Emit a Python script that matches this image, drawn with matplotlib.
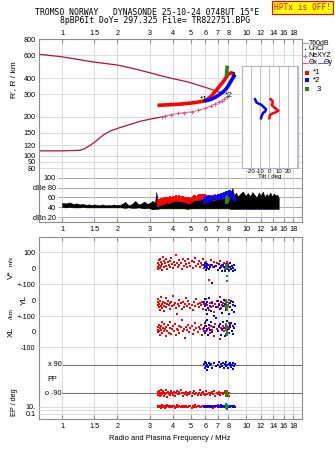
import matplotlib
matplotlib.use("Agg")
import matplotlib.pyplot as plt
from matplotlib.lines import Line2D
from matplotlib.ticker import NullLocator

# ---------------------------------------------------------------- data
FREQ_TICKS = [1, 1.5, 2, 3, 4, 5, 6, 7, 8, 10, 12, 14, 16, 18]
FREQ_LABELS = ['1', '1.5', '2', '3', '4', '5', '6', '7', '8', '10', '12', '14', '16', '18']
HT_TICKS = [800, 600, 400, 300, 200, 150, 120, 100, 90, 80]
AMP_TICKS = [100, 80, 60, 40, 20]
AMP_LABELS = ['100', 'dBe 80', '60', '40', 'dBn 20']

# upper curve and true-height profile (MHz, km)
upper_f = [0.753, 1.0, 1.5, 2.0, 2.5, 3.0, 3.5, 4.0, 4.5, 5.0, 5.5, 6.0, 6.5, 7.0, 7.5]
upper_h = [612, 585, 532, 505, 470, 440, 415, 396, 382, 368, 352, 339, 326, 314, 305]
prof_f = [0.753, 1.0, 1.25, 1.32, 1.42, 1.51, 1.6, 1.68, 1.82, 1.98, 2.2, 2.44, 2.7, 3.0, 3.3, 3.62]
prof_h = [109, 109, 110, 113, 120, 128, 137, 145, 155, 162, 170, 178, 186, 192, 197, 201]
nexyz_f = [3.47, 3.62, 3.9, 4.26, 4.6, 5.06, 5.5, 5.97, 6.4, 6.76, 7.1, 7.36, 7.6, 7.83]
nexyz_h = [198, 203, 208, 213, 216, 219, 225, 233, 242, 252, 260, 267, 277, 287]

# virtual-height traces
o_trace_f = [3.30, 3.5, 3.7, 3.9, 4.1, 4.3, 4.5, 4.7, 4.9, 5.1, 5.3, 5.5, 5.7, 5.9,
             6.0, 6.2, 6.4, 6.6, 6.8, 7.0, 7.2, 7.4, 7.6, 7.8, 8.0, 8.3, 8.6]
o_trace_h = [246, 247, 248, 249, 250, 251, 252, 254, 255, 257, 259, 261, 263, 266,
             268, 276, 286, 300, 316, 332, 350, 366, 385, 408, 430, 440, 428]
x_trace_f = [5.9, 6.1, 6.3, 6.5, 6.7, 6.9, 7.1, 7.3, 7.5, 7.7, 7.9, 8.1, 8.3, 8.5, 8.7]
x_trace_h = [266, 268, 271, 275, 281, 288, 296, 304, 313, 325, 340, 360, 383, 405, 425]
z_trace_f = [7.80, 7.82, 7.84, 7.86, 7.88, 7.90]
z_trace_h = [412, 430, 450, 470, 488, 500]

# tilt profiles (deg, km)
tilt_red = [1.3, 3.1, 3.5, 2.4, 4.2, 7.9, 9.7, 6.0, 3.5, 0.5, -0.2]
tilt_red_h = [274, 267, 255, 247, 240, 229, 223, 216, 213, 207, 195]
tilt_blue = [-15.9, -14.1, -11.2, -8.6, -6.8, -3.8, -4.9, -6.8, -7.5, -8.6, -9.3]
tilt_blue_h = [274, 258, 252, 247, 240, 229, 219, 216, 211, 203, 195]

# background amplitude (MHz, dB)
noise_f = [1.00, 1.05, 1.10, 1.15, 1.20, 1.25, 1.30, 1.35, 1.40, 1.45,
           1.50, 1.55, 1.60, 1.65, 1.70, 1.75, 1.80, 1.85, 1.90, 1.95,
           2.00, 2.10, 2.20, 2.30, 2.40, 2.50, 2.60, 2.70, 2.80, 2.90,
           3.00, 3.10, 3.20, 3.25, 3.30, 3.40, 3.50, 3.60, 3.70, 3.80,
           3.90, 4.00, 4.20, 4.40, 4.60, 4.80, 5.00, 5.20, 5.40, 5.60,
           5.80, 6.00, 6.20, 6.40, 6.60, 6.80, 7.00, 7.20, 7.40, 7.60,
           7.80, 8.00, 8.20, 8.40, 8.60, 8.80, 9.00, 9.30, 9.60, 9.90,
           10.2, 10.5, 10.8, 11.1, 11.4, 11.7, 12.0, 12.3, 12.6, 12.9,
           13.2, 13.5, 13.8, 14.1, 14.4, 14.7, 15.0]
noise_hi = [49, 48, 50, 47, 48, 46, 47, 45, 46, 45,
            46, 45, 44, 46, 45, 44, 45, 44, 46, 45,
            45, 46, 51, 44, 47, 53, 46, 48, 52, 47,
            49, 53, 50, 71, 52, 50, 54, 49, 55, 51,
            50, 53, 56, 52, 61, 55, 60, 57, 54, 58,
            56, 62, 55, 60, 57, 58, 56, 60, 58, 63,
            60, 58, 62, 79, 64, 70, 62, 68, 72, 63,
            69, 62, 71, 65, 60, 70, 64, 72, 61, 67,
            63, 70, 62, 68, 64, 66, 60]
noise_lo = [41, 40, 41, 40, 40, 40, 41, 40, 40, 40,
            40, 40, 40, 40, 40, 40, 40, 40, 40, 40,
            40, 40, 39, 40, 39, 39, 40, 39, 38, 39,
            38, 36, 37, 37, 37, 38, 38, 38, 38, 38,
            38, 38, 38, 38, 38, 37, 38, 38, 38, 38,
            38, 38, 38, 38, 38, 38, 38, 38, 38, 38,
            38, 38, 37, 37, 37, 37, 37, 37, 37, 37,
            37, 37, 37, 37, 37, 37, 37, 37, 37, 37,
            37, 37, 37, 37, 37, 37, 37]

# echoes, ordinary (*1)
red_f = [3.30, 3.31, 3.33, 3.35, 3.37, 3.39, 3.41, 3.43, 3.46, 3.48,
         3.51, 3.54, 3.57, 3.60, 3.63, 3.66, 3.69, 3.72, 3.76, 3.80,
         3.84, 3.88, 3.92, 3.96, 4.00, 4.04, 4.09, 4.14, 4.19, 4.24,
         4.29, 4.34, 4.40, 4.46, 4.52, 4.58, 4.64, 4.70, 4.77, 4.84,
         4.91, 4.98, 5.05, 5.12, 5.20, 5.28, 5.36, 5.44, 5.52, 5.60,
         5.68, 5.76, 5.84, 5.92, 6.00, 6.08, 6.16, 6.24, 6.33, 6.42,
         6.51, 6.60, 6.70, 6.80, 6.90, 7.00, 7.10, 7.20, 7.30, 7.40,
         7.50, 7.58, 7.66, 7.72, 7.78, 7.84, 7.90, 7.96, 8.02, 8.10]
red_v = [10, 35, -5, 50, 20, 0, 60, 15, 40, -8,
         25, 70, 5, 45, 30, 12, 55, -2, 38, 20,
         48, 10, 65, 28, 3, 42, 18, 80, 33, 8,
         52, 22, 36, -4, 60, 14, 44, 27, 6, 58,
         30, 17, 48, 2, 38, 64, 12, 25, 45, 8,
         35, 20, 55, 0, 28, 42, 10, -75, 18, 50,
         22, 5, 40, 15, 30, -10, 25, 45, 8, 20,
         12, 35, -5, 28, 18, 40, 6, 25, -15, 10]
red_yl = [-15, -30, 5, -42, -22, -60, -8, -35, 20, -50,
          -25, -12, -38, -70, -18, 10, -45, -28, -5, -33,
          -20, -55, -10, -40, 25, -30, -16, -48, -85, -24,
          -36, 0, -20, -58, -12, -44, -27, 15, -35, -8,
          -22, -50, -30, -65, -14, -38, 5, -26, -46, -18,
          -32, -10, -56, -24, -40, 8, -30, -62, -20, -45,
          -15, -35, -75, -28, -8, -42, -22, 20, -52, -30,
          -18, -38, -5, -48, -26, -60, -12, -34, 2, -20]
red_xl = [10, -5, 25, 40, 0, 18, -20, 32, 8, 55,
          -12, 22, 5, 45, 15, -30, 28, 2, 38, -8,
          20, 60, -15, 12, 35, 0, 48, -25, 16, 6,
          30, -10, 24, 70, 4, 14, -40, 26, 10, 42,
          -2, 18, 34, -18, 8, 52, 20, -6, 28, 12,
          40, -22, 15, 2, 30, 62, 6, 20, -12, 36,
          10, 24, -30, 44, 14, 0, 28, -50, 18, 8,
          32, 4, 22, -16, 38, 12, -4, 26, 50, 16]
red_pp = [-90, -82, -100, -75, -95, -110, -86, -70, -98, -88,
          -92, -78, -105, -85, -96, -68, -90, -112, -80, -94,
          -87, -102, -74, -91, -99, -83, -108, -89, -77, -95,
          -84, -97, -72, -90, -106, -86, -93, -79, -101, -88,
          -96, -81, -110, -89, -76, -94, -85, -103, -91, -70,
          -98, -87, -82, -95, -100, -78, -92, -86, -104, -90,
          -83, -97, -75, -108, -88, -93, -80, -99, -85, -91,
          -94, -89, -77, -101, -86, -96, -82, -90, -105, -88]
red_ep = [10, 14, 7, 20, 9, 12, 16, 6, 11, 25,
          8, 13, 18, 10, 5, 15, 9, 22, 12, 7,
          14, 10, 19, 8, 12, 16, 6, 11, 28, 9,
          13, 17, 8, 12, 10, 21, 7, 15, 11, 9,
          18, 12, 6, 14, 10, 24, 8, 13, 16, 11,
          9, 15, 12, 7, 20, 10, 14, 8, 17, 11,
          12, 6, 16, 9, 13, 22, 10, 8, 15, 12,
          11, 18, 7, 14, 9, 12, 20, 10, 8, 13]
red_amp = [54, 56, 53, 55, 57, 54, 56, 58, 55, 57,
           56, 58, 60, 57, 59, 61, 58, 60, 62, 59,
           61, 63, 60, 62, 64, 62, 63, 65, 63, 64,
           65, 63, 64, 62, 63, 61, 62, 60, 61, 59,
           60, 58, 61, 63, 65, 66, 64, 66, 67, 65,
           67, 68, 66, 68, 67, 65, 66, 64, 65, 66,
           64, 66, 65, 67, 66, 68, 67, 66, 68, 67,
           69, 68, 70, 71, 72, 70, 69, 68, 66, 64]

# echoes, extraordinary (*2)
blue_f = [5.92, 5.96, 6.00, 6.03, 6.06, 6.10, 6.14, 6.18, 6.24, 6.32,
          6.42, 6.55, 6.70, 6.85, 7.00, 7.10, 7.20, 7.30, 7.40, 7.48,
          7.56, 7.64, 7.72, 7.80, 7.88, 7.96, 8.04, 8.12, 8.20, 8.28,
          8.36, 8.44, 8.52, 8.60, 8.68]
blue_v = [20, 5, 30, -10, 12, 25, 0, 18, -5, 10,
          22, -90, 8, 15, -8, 28, 2, 14, -15, 20,
          6, -20, 10, 24, -2, 16, -12, 8, 30, -6,
          12, -18, 4, 18, -10]
blue_yl = [-10, -40, 5, -60, -25, -85, -15, -50, 10, -35,
           -70, -20, -100, -45, -5, -30, -55, -15, -80, -40,
           0, -25, -65, -10, -50, -35, -90, -20, -45, -5,
           -60, -30, -15, -75, -40]
blue_xl = [20, 50, -10, 35, 5, 70, 15, -25, 40, 10,
           60, -5, 25, 80, 0, 30, 45, -20, 12, 55,
           20, -30, 35, 8, 65, 15, -10, 40, 25, 50,
           0, 30, -15, 20, 45]
blue_pp = [95, 70, 110, 85, 100, 60, 92, 78, 105, 88,
           96, 72, 100, 84, 90, 108, 76, 94, 86, 102,
           68, 98, 82, 112, 90, 74, 96, 88, 104, 80,
           92, 66, 100, 86, 94]
blue_ep = [10, 14, 8, 12, 16, 9, 11, 20, 13, 7,
           15, 10, 12, 18, 9, 14, 11, 22, 8, 13,
           16, 10, 12, 25, 9, 14, 11, 17, 8, 12,
           15, 10, 19, 13, 9]
blue_amp = [60, 62, 58, 63, 61, 64, 60, 62, 65, 63,
            62, 64, 66, 65, 67, 68, 66, 69, 67, 70,
            72, 68, 71, 73, 70, 74, 76, 72, 75, 73,
            70, 68, 66, 64, 62]

# echoes, class 3
green_f = [7.74, 7.76, 7.78, 7.80, 7.82, 7.84, 7.86, 7.88, 7.90, 7.93]
green_v = [10, -5, 20, 0, 15, -48, 5, -80, 12, 2]
green_yl = [-5, -20, -35, 0, -50, -15, -30, -60, -10, -40]
green_xl = [30, 10, -15, 45, 0, 20, -20, 5, 35, -10]
green_pp = [-80, -95, -105, -85, -100, -90, -110, -75, -92, -98]
green_ep = [30, 5, 12, 50, 2, 20, 8, 40, 3, 15]
green_amp = [58, 62, 60, 64, 61, 66, 63, 59, 62, 60]

# ---------------------------------------------------------------- style
W, H = 335, 451
F_LIM = (0.753, 20.0)
GRID = '#d3d3db'
FRAME = '#8c8c8c'
RED, BLUE, GREEN = '#ff0000', '#0000ff', '#1c8c1c'
MAROON, PINK = '#b3123c', '#e0588c'
FS = 5.2
ECHO_BAND = 12          # dB depth of the amplitude bars
AMP_GRID_START = 0.95   # MHz where amplitude reference lines begin

plt.rcParams['font.family'] = ['Liberation Sans', 'DejaVu Sans']


def px_box(x0, y0, x1, y1):
    return [x0 / W, 1 - y1 / H, (x1 - x0) / W, (y1 - y0) / H]


def fxy(x, y):
    return x / W, 1 - y / H


def freq_axis(ax):
    ax.set_xscale('log')
    ax.set_xlim(*F_LIM)
    ax.set_xticks(FREQ_TICKS, FREQ_LABELS)
    ax.xaxis.set_minor_locator(NullLocator())
    ax.grid(True, axis='x', color=GRID, lw=0.6)
    ax.set_axisbelow(True)
    for s in ax.spines.values():
        s.set_color(FRAME)
        s.set_linewidth(0.8)
    ax.tick_params(labelsize=FS, color=FRAME, labelcolor='black')


fig = plt.figure(figsize=(W / 100, H / 100), dpi=100)

# ---------------------------------------------------------------- height panel
ax_h = fig.add_axes(px_box(39.3, 39.3, 301.7, 172))
freq_axis(ax_h)
ax_h.set_yscale('log')
ax_h.set_ylim(74.7, 800)
ax_h.set_yticks(HT_TICKS, [str(v) for v in HT_TICKS])
ax_h.yaxis.set_minor_locator(NullLocator())
ax_h.grid(True, axis='y', color=GRID, lw=0.6)
ax_h.xaxis.tick_top()
ax_h.tick_params(axis='x', direction='in', length=3, pad=1.5)
ax_h.tick_params(axis='y', length=0, pad=2.4)
ax_h.spines['bottom'].set_visible(False)

ax_h.plot(upper_f, upper_h, color=MAROON, lw=0.9)
ax_h.plot(prof_f, prof_h, color=MAROON, lw=0.9)
ax_h.plot(nexyz_f, nexyz_h, color=PINK, lw=0.7, marker='+', ms=3, mew=0.7)
ax_h.plot(o_trace_f, o_trace_h, color=RED, lw=2.6, solid_capstyle='butt')
ax_h.plot(x_trace_f, x_trace_h, color=BLUE, lw=2.6, solid_capstyle='butt')
ax_h.plot(z_trace_f, z_trace_h, color=GREEN, lw=2.6, solid_capstyle='butt')
ax_h.text(5.6, 272, '*1', fontsize=6, va='center', ha='left')
ax_h.text(7.68, 292, '*2', fontsize=6, va='center', ha='left')
ax_h.text(8.25, 422, '3', fontsize=6, va='center', ha='left')

# ---------------------------------------------------------------- amplitude panel
ax_a = fig.add_axes(px_box(39.3, 172, 301.7, 222))
freq_axis(ax_a)
ax_a.set_ylim(10.5, 111.5)
ax_a.set_yticks(AMP_TICKS, AMP_LABELS)
ax_a.tick_params(axis='y', length=0, pad=-12)
ax_a.tick_params(axis='x', direction='in', length=3, pad=3)
ax_a.spines['top'].set_visible(False)
ax_a.hlines([100, 80, 60, 40], AMP_GRID_START, F_LIM[1], color='#a6a6a6', lw=0.7, zorder=0.5)
ax_a.hlines([20], AMP_GRID_START, F_LIM[1], color='#a0a0e6', lw=0.7, zorder=0.5)
ax_a.fill_between(noise_f, noise_lo, noise_hi, color='black', lw=0.4, edgecolor='black')
ax_a.vlines(red_f, [a - ECHO_BAND for a in red_amp], red_amp, color=RED, lw=1.3)
ax_a.vlines(blue_f, [a - ECHO_BAND for a in blue_amp], blue_amp, color=BLUE, lw=1.3)
ax_a.vlines(green_f, [a - ECHO_BAND for a in green_amp], green_amp, color=GREEN, lw=1.3)

# ---------------------------------------------------------------- tilt inset
ax_t = fig.add_axes(px_box(241.7, 65.7, 298.3, 168.3))
ax_t.set_facecolor('white')
ax_t.set_xlim(-30.5, 31.6)
ax_t.set_yscale('log')
ax_t.set_ylim(79.9, 498)
ax_t.set_yticks([])
ax_t.yaxis.set_minor_locator(NullLocator())
ax_t.set_xticks([-30, -20, -10, 0, 10, 20, 30], ['', '-20', '-10', '0', '10', '20', ''])
ax_t.tick_params(axis='x', length=0, pad=0.6, labelsize=4.4)
ax_t.grid(True, axis='x', color='#b4b4c4', lw=0.6)
ax_t.set_axisbelow(True)
for s in ax_t.spines.values():
    s.set_color('#b4b4c4')
    s.set_linewidth(0.8)
ax_t.set_xlabel('Tilt / deg', fontsize=4.4, labelpad=0)
ax_t.plot(tilt_red, tilt_red_h, color=RED, lw=1.8)
ax_t.plot(tilt_blue, tilt_blue_h, color=BLUE, lw=1.8)

# ---------------------------------------------------------------- lower panel
LOWER = (39.3, 237.3, 301.7, 419.3)
ax_l = fig.add_axes(px_box(*LOWER))
freq_axis(ax_l)
ax_l.set_yticks([])
ax_l.tick_params(axis='x', direction='in', length=3, top=True, bottom=True, pad=2.5)


def overlay(rect, ylim, ticks, labels, scale='linear'):
    ax = fig.add_axes(px_box(*rect))
    ax.set_xscale('log')
    ax.set_xlim(*F_LIM)
    ax.set_xticks([])
    ax.xaxis.set_minor_locator(NullLocator())
    ax.set_yscale(scale)
    ax.set_ylim(*ylim)
    ax.set_yticks(ticks, labels)
    ax.yaxis.set_minor_locator(NullLocator())
    ax.tick_params(axis='y', length=0, pad=2.7, labelsize=FS)
    ax.patch.set_visible(False)
    for s in ax.spines.values():
        s.set_visible(False)
    return ax


def echoes(ax, fr, fb, fg, r, b, g):
    kw = dict(ls='none', marker='s', ms=1.7, mew=0)
    ax.plot(fr, r, color=RED, **kw)
    ax.plot(fb, b, color=BLUE, **kw)
    ax.plot(fg, g, color=GREEN, **kw)


ax_v = overlay(LOWER, (-943.75, 193.75), [100, 0, -100], ['100', '0', '+-100'])
ax_v.axhline(100, color=GRID, lw=0.6)
ax_v.axhline(-100, color=GRID, lw=0.6)
echoes(ax_v, red_f, blue_f, green_f, red_v, blue_v, green_v)

ax_yl = overlay(LOWER, (-745.6, 391.9), [0, -100], ['0', '+-100'])
ax_yl.axhline(-100, color=GRID, lw=0.6)
echoes(ax_yl, red_f, blue_f, green_f, red_yl, blue_yl, green_yl)

ax_xl = overlay(LOWER, (-549.4, 586.9), [0, -100], ['0', '-100'])
ax_xl.axhline(-100, color=GRID, lw=0.6)
echoes(ax_xl, red_f, blue_f, green_f, red_xl, blue_xl, green_xl)

ax_pp = overlay(LOWER, (-255.4, 902.2), [], [])
ax_pp.hlines([90, -90], 1.0, F_LIM[1], color='#747474', lw=0.8)
ax_pp.text(0.995, 90, 'x 90', fontsize=FS, ha='right', va='center')
ax_pp.text(0.995, -90, 'o -90', fontsize=FS, ha='right', va='center')
ax_pp.text(0.83, 0, 'PP', fontsize=FS, ha='left', va='center')
echoes(ax_pp, red_f, blue_f, green_f, red_pp, blue_pp, green_pp)

ax_ep = overlay((39.3, 398, 301.7, 419.3), (0.00353, 2421), [10, 0.1], ['10.', '0.1'], scale='log')
for v in (10, 1, 0.1):
    ax_ep.axhline(v, color=GRID, lw=0.6)
echoes(ax_ep, red_f, blue_f, green_f, red_ep, blue_ep, green_ep)

# ---------------------------------------------------------------- axis labels
fig.text(*fxy(13.3, 80), "R', R / km", fontsize=6, rotation=90, ha='center', va='center')
fig.text(*fxy(11.5, 275), 'V*', fontsize=6, rotation=90, ha='center', va='center')
fig.text(*fxy(11.5, 261), 'm/s', fontsize=4.4, rotation=90, ha='center', va='center')
fig.text(*fxy(24.5, 300), 'YL', fontsize=6, rotation=90, ha='center', va='center')
fig.text(*fxy(11.5, 314), '/km', fontsize=4.4, rotation=90, ha='center', va='center')
fig.text(*fxy(11, 332), 'XL', fontsize=6, rotation=90, ha='center', va='center')
fig.text(*fxy(14, 402), 'EP / deg', fontsize=5.2, rotation=90, ha='center', va='center')
fig.text(*fxy(170, 439), 'Radio and Plasma Frequency / MHz', fontsize=5.4, ha='center', va='center')

# ---------------------------------------------------------------- header
MONO = 'DejaVu Sans Mono'
fig.text(*fxy(35, 12.3), 'TROMSO NORWAY   DYNASONDE 25-10-24 0748UT 15°E',
         family=MONO, fontsize=5.9, ha='left', va='center')
fig.text(*fxy(60, 20.7), '8pBP6It DoY= 297.325 File= TR822751.BPG',
         family=MONO, fontsize=5.9, ha='left', va='center')
fig.text(*fxy(302.5, 7.2), 'HPTx is OFF!', family=MONO, fontsize=5.7, color='#ff0000',
         ha='center', va='center',
         bbox=dict(boxstyle='square,pad=0.25', facecolor='#ffff00', edgecolor='#ff0000', lw=0.8))

# ---------------------------------------------------------------- legend
def leg_line(x0, x1, y, color):
    fig.add_artist(Line2D([x0 / W, x1 / W], [1 - y / H] * 2, color=color, lw=0.8))


def leg_mark(x, y, color, marker, ms, mew=0):
    fig.add_artist(Line2D([x / W], [1 - y / H], color=color, marker=marker, ms=ms,
                          mew=mew, ls='none'))


LFS = 5.0
leg_line(302.5, 308, 43.3, '#a0a0a0')
fig.text(*fxy(308.5, 43.3), 'T60dB', fontsize=LFS, va='center')
leg_mark(305, 49, 'black', 's', 0.9)
fig.text(*fxy(308.5, 49), 'UnCl', fontsize=LFS, va='center')
leg_mark(304.5, 55.7, PINK, '+', 3.2, 0.7)
fig.text(*fxy(308.5, 55.7), 'NeXYZ', fontsize=LFS, va='center')
leg_line(302.5, 308, 62.7, PINK)
fig.text(*fxy(308.5, 62.7), 'Θx', fontsize=LFS, va='center')
leg_line(317.5, 323.5, 62.7, '#6060ff')
fig.text(*fxy(324, 62.7), 'Θy', fontsize=LFS, va='center')
leg_mark(307.3, 72.7, RED, 's', 2.2)
fig.text(*fxy(312.5, 72.7), '*1', fontsize=LFS + 0.6, va='center')
leg_mark(307.3, 80, BLUE, 's', 2.2)
fig.text(*fxy(312.5, 80), '*2', fontsize=LFS + 0.6, va='center')
leg_mark(307.3, 89.3, GREEN, 's', 2.2)
fig.text(*fxy(317, 89.3), '3', fontsize=LFS + 0.6, va='center')

fig.savefig('out.png', dpi=100)
